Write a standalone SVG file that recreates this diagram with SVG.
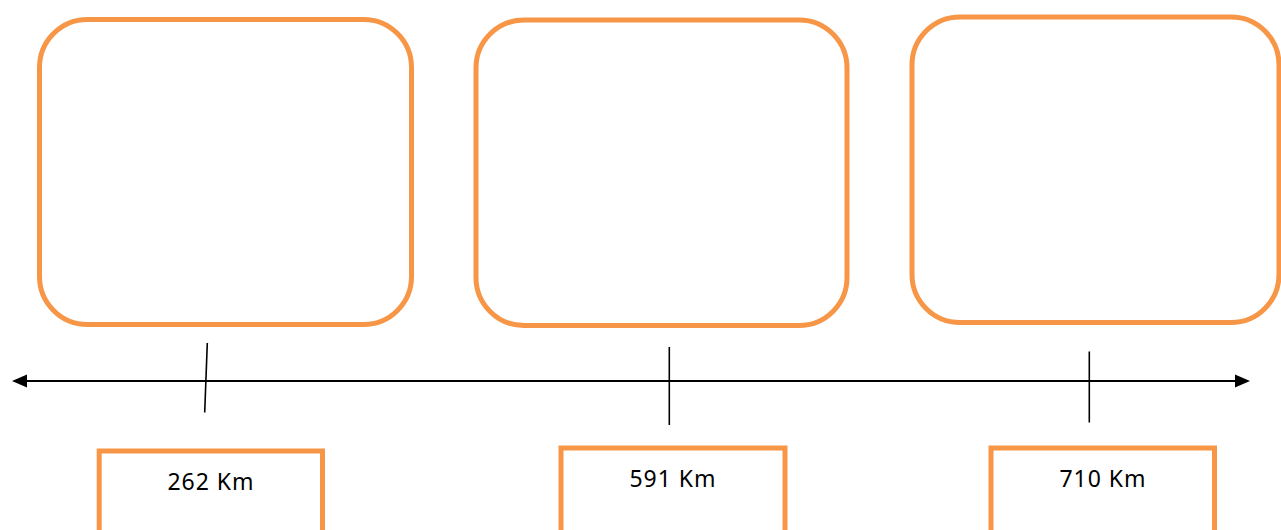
<svg xmlns="http://www.w3.org/2000/svg" width="1281" height="530" viewBox="0 0 1281 530">
<style>
.card{fill:#fff;stroke:#F79646;stroke-width:5}
.lbl{fill:#fff;stroke:#F79646;stroke-width:5}
.txt{font-family:"Noto Sans","Open Sans",sans-serif;font-size:23px;fill:#000;text-anchor:middle;letter-spacing:1px}
.axis{stroke:#000;stroke-width:2.2;fill:none}
.tick{stroke:#000;stroke-width:1.6;fill:none}
</style>
<rect width="1281" height="530" fill="#fff"/>
<g id="card1"><rect class="card" x="39.5" y="19.5" width="372" height="305" rx="48" ry="48"/></g>
<g id="card2"><rect class="card" x="476" y="20" width="371" height="305.5" rx="48" ry="48"/></g>
<g id="card3"><rect class="card" x="912" y="17" width="367" height="305.5" rx="48" ry="48"/></g>
<g id="connectors">
<line class="axis" x1="26" y1="381" x2="1237" y2="381"/>
<polygon points="12,381 27,374.5 27,387.5" fill="#000"/>
<polygon points="1250,381 1235,374.5 1235,387.5" fill="#000"/>
<line class="tick" x1="207.3" y1="343" x2="204.7" y2="412.5"/>
<line class="tick" x1="669.3" y1="347" x2="669.3" y2="425"/>
<line class="tick" x1="1089.3" y1="351.5" x2="1089.3" y2="422.5"/>
</g>
<g id="label1"><rect class="lbl" x="99.2" y="451" width="223.3" height="90"/><text class="txt" x="211" y="490">262 Km</text></g>
<g id="label2"><rect class="lbl" x="561" y="448" width="224" height="90"/><text class="txt" x="673" y="486.5">591 Km</text></g>
<g id="label3"><rect class="lbl" x="991" y="448" width="223.5" height="90"/><text class="txt" x="1103" y="486.5">710 Km</text></g>
</svg>
